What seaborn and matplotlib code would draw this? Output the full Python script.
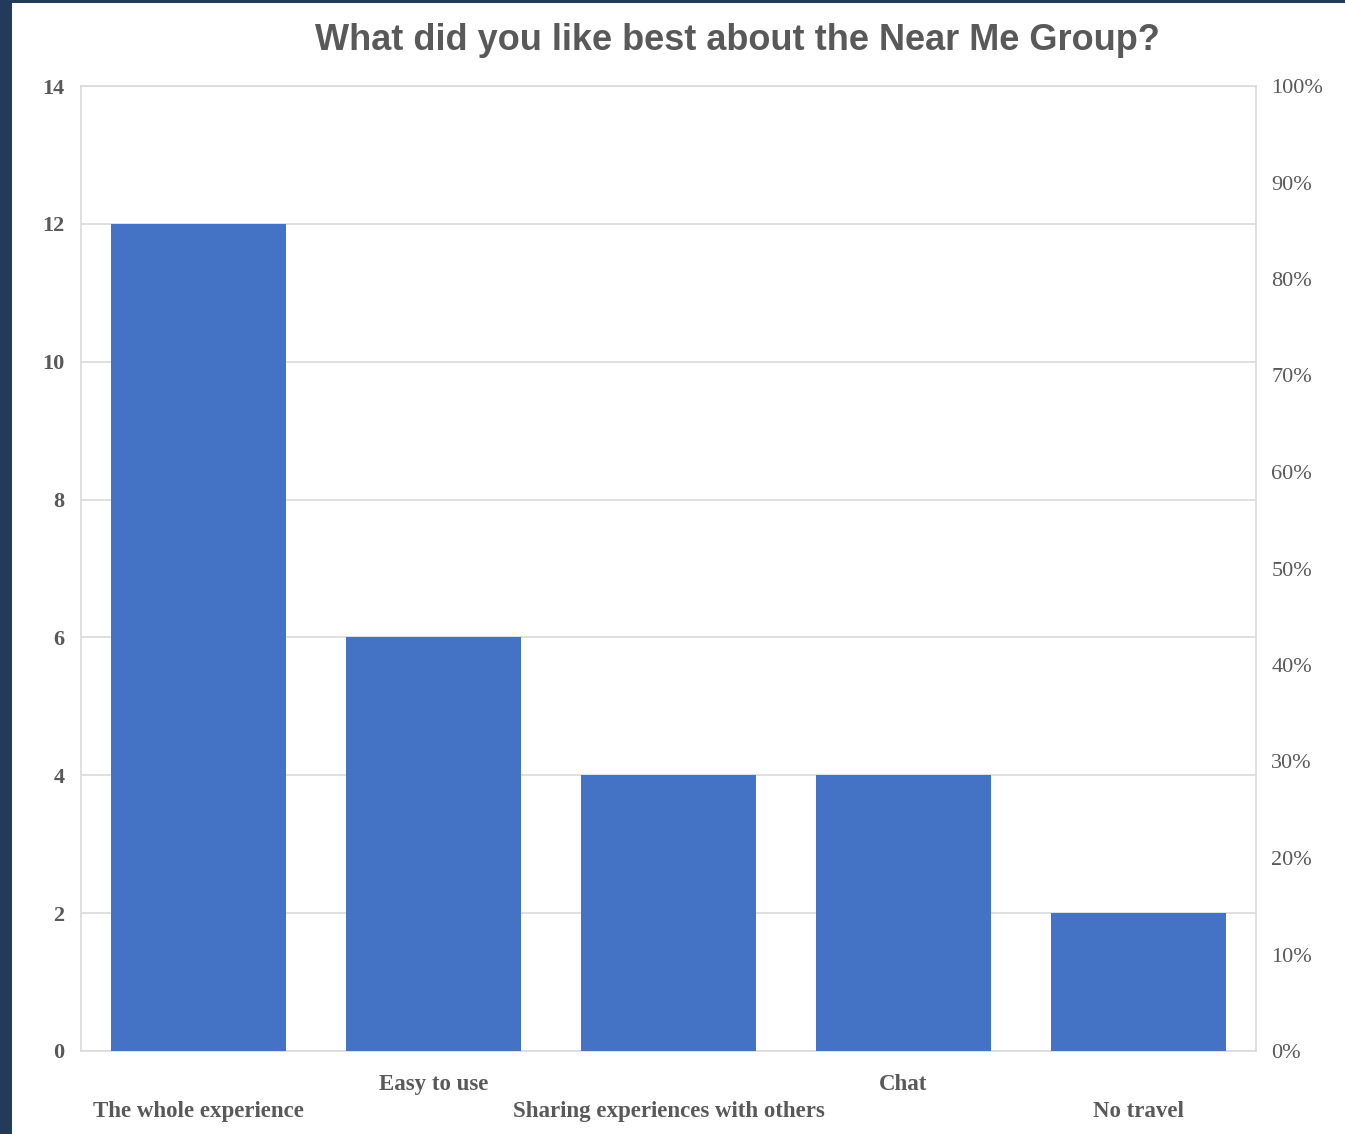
import matplotlib
matplotlib.use("Agg")
import matplotlib.pyplot as plt
from matplotlib.patches import Rectangle
from matplotlib.ticker import FixedLocator, PercentFormatter
import seaborn as sns
import pandas as pd

# Survey responses
categories = ["The whole experience", "Easy to use", "Sharing experiences with others", "Chat", "No travel"]
counts = [12, 6, 4, 4, 2]
left_ticks = [0, 2, 4, 6, 8, 10, 12, 14]
right_ticks = [0.0, 0.1, 0.2, 0.3, 0.4, 0.5, 0.6, 0.7, 0.8, 0.9, 1.0]
title = "What did you like best about the Near Me Group?"

df = pd.DataFrame({"category": categories, "count": counts})

sns.set_theme(style="white")
plt.rcParams["font.family"] = ["Liberation Serif", "DejaVu Serif"]

text_gray = "#595959"
grid_gray = "#d9d9d9"
bar_blue = "#4472c4"

fig = plt.figure(figsize=(13.45, 11.34), dpi=100)
fig.patch.set_facecolor("white")
# frame strips along the left and top edges
fig.patches.append(Rectangle((0, 0), 12 / 1345, 1, transform=fig.transFigure,
                             facecolor="#233a5c", edgecolor="none", zorder=0))
fig.patches.append(Rectangle((0, 1 - 3 / 1134), 1, 3 / 1134, transform=fig.transFigure,
                             facecolor="#233a5c", edgecolor="none", zorder=0))

ax = fig.add_axes([81 / 1345, 1 - 1051 / 1134, 1175 / 1345, 965 / 1134])
sns.barplot(data=df, x="category", y="count", color=bar_blue, width=0.745,
            saturation=1, linewidth=0, ax=ax, zorder=3)

ax.set_ylim(0, 14)
ax.set_xlim(-0.5, len(categories) - 0.5)
ax.yaxis.set_major_locator(FixedLocator(left_ticks))
ax.grid(axis="y", color=grid_gray, linewidth=1.2, zorder=0)
ax.grid(axis="x", visible=False)
for s in ax.spines.values():
    s.set_color(grid_gray)
    s.set_linewidth(1.2)
ax.set_xlabel("")
ax.set_ylabel("")
ax.tick_params(axis="both", length=0)
ax.tick_params(axis="y", pad=12, labelsize=16, labelcolor=text_gray)
ax.tick_params(axis="x", pad=16.5, labelsize=16.5, labelcolor=text_gray)
for lab in ax.get_yticklabels():
    lab.set_fontweight("bold")

# staggered category labels: alternate rows
staggered = [("\n" + c) if i % 2 == 0 else c for i, c in enumerate(categories)]
ax.set_xticks(range(len(categories)))
ax.set_xticklabels(staggered, fontweight="bold", linespacing=1.4)

ax2 = ax.twinx()
ax2.set_ylim(0, 1)
ax2.yaxis.set_major_locator(FixedLocator(right_ticks))
ax2.yaxis.set_major_formatter(PercentFormatter(1.0, decimals=0))
ax2.tick_params(axis="y", length=0, pad=11, labelsize=16, labelcolor=text_gray)
ax2.grid(False)
for s in ax2.spines.values():
    s.set_visible(False)

fig.text(737 / 1345, 1 - 41 / 1134, title, ha="center", va="center",
         fontsize=26, fontweight="bold", color=text_gray,
         family=["Liberation Sans", "DejaVu Sans"])

fig.savefig("out.png", dpi=100, facecolor="white")
